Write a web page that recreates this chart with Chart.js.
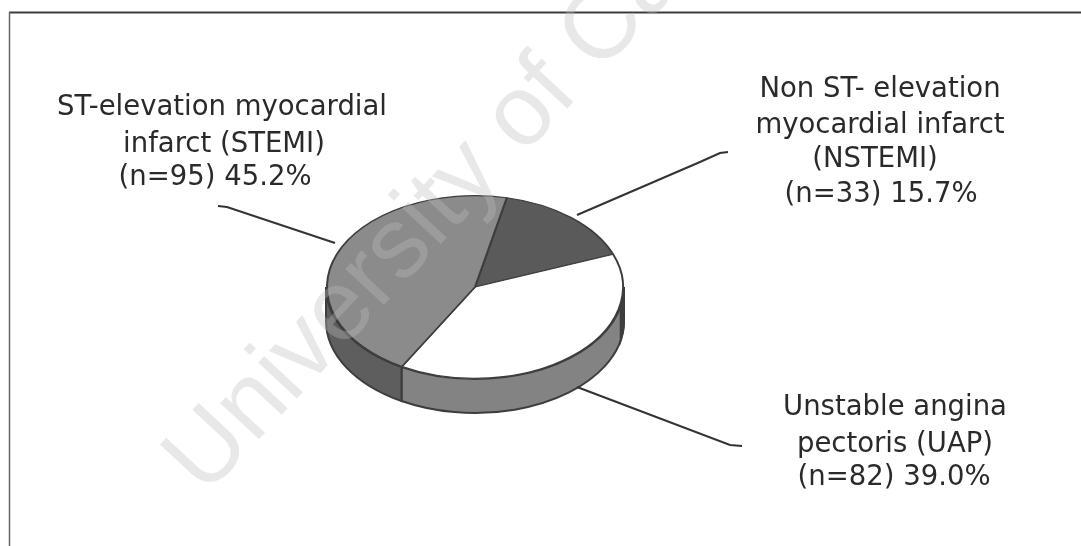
<!DOCTYPE html>
<html>
<head>
<meta charset="utf-8">
<style>
  html, body { margin: 0; padding: 0; background: #fff; }
  canvas { display: block; }
</style>
<script src="https://cdn.jsdelivr.net/npm/chart.js@4"></script>
</head>
<body>
<canvas id="acsChart" width="1081" height="546"></canvas>
<script>
// Data
const categories = ["NSTEMI", "UAP", "STEMI"];
const patients = [33, 82, 95];
const labelLines = [
    ["Non ST- elevation", "myocardial infarct", "(NSTEMI)", "(n=33) 15.7%"],
    ["Unstable angina", "pectoris (UAP)", "(n=82) 39.0%"],
    ["ST-elevation myocardial", "infarct (STEMI)", "(n=95) 45.2%"],
];

// Styles, one per slice
const faceColors = ["#5a5a5a", "#ffffff", "#8b8b8b"];
const wallColors = ["#3f3f3f", "#838383", "#5e5e5e"];

// Where each label line sits: [centre x, baseline y]
const labelAnchors = [
    [[880, 97], [880, 133], [875, 167], [881, 202]],
    [[895, 415], [895, 452], [894, 485]],
    [[222, 115], [224, 152], [215, 185]],
];
const leaders = [
    [[577, 215], [700, 162], [720, 153], [728, 152]],
    [[577, 387], [730, 445], [742, 446]],
    [[218, 206], [227, 207], [335, 243]],
];

const PIE_X = 475, PIE_Y = 287, RADIUS_X = 149, RADIUS_Y = 92, DEPTH = 34;
const SQUASH = RADIUS_Y / RADIUS_X;
const SLIVER_END = 12 * Math.PI / 180;

function drawWall(ctx, from, to, color) {
    if (to <= from) return;
    ctx.beginPath();
    ctx.ellipse(PIE_X, PIE_Y, RADIUS_X, RADIUS_Y, 0, from, to);
    ctx.ellipse(PIE_X, PIE_Y + DEPTH, RADIUS_X, RADIUS_Y, 0, to, from, true);
    ctx.closePath();
    ctx.fillStyle = color;
    ctx.fill();
    ctx.strokeStyle = "#3d3d3d";
    ctx.lineWidth = 2;
    ctx.stroke();
}

// Tilts the pie and puts the extruded side under it
const tiltPlugin = {
    id: "tilt",
    beforeDatasetsDraw(chart) {
        const ctx = chart.ctx;
        chart.getDatasetMeta(0).data.forEach((arc, i) => {
            const from = Math.max(arc.startAngle, 0);
            const to = Math.min(arc.endAngle, Math.PI);
            drawWall(ctx, from, to, wallColors[i]);
        });
        drawWall(ctx, 0, SLIVER_END, wallColors[0]);
        ctx.save();
        ctx.translate(PIE_X, PIE_Y);
        ctx.scale(1, SQUASH);
        ctx.translate(-PIE_X, -PIE_Y);
    },
    afterDatasetsDraw(chart) {
        chart.ctx.restore();
    },
};

// Frame, leader lines, labels and the watermark
const annotationPlugin = {
    id: "annotations",
    afterDraw(chart) {
        const ctx = chart.ctx;
        ctx.save();

        ctx.strokeStyle = "#3c3c3c";
        ctx.lineWidth = 2;
        ctx.beginPath();
        ctx.moveTo(9, 12.5);
        ctx.lineTo(1081, 12.5);
        ctx.stroke();
        ctx.strokeStyle = "#666666";
        ctx.lineWidth = 1.5;
        ctx.beginPath();
        ctx.moveTo(9.5, 12);
        ctx.lineTo(9.5, 546);
        ctx.stroke();

        ctx.strokeStyle = "#333333";
        ctx.lineWidth = 2;
        leaders.forEach((points) => {
            ctx.beginPath();
            points.forEach(([x, y], i) => (i ? ctx.lineTo(x, y) : ctx.moveTo(x, y)));
            ctx.stroke();
        });

        ctx.save();
        ctx.translate(205, 497);
        ctx.rotate(-47 * Math.PI / 180);
        ctx.font = "100px 'Liberation Sans'";
        ctx.fillStyle = "rgba(190, 190, 190, 0.35)";
        ctx.textAlign = "left";
        ctx.fillText("University of Cape Town", 0, 0);
        ctx.restore();

        ctx.fillStyle = "#2a2a2a";
        ctx.font = "27.5px 'DejaVu Sans'";
        ctx.textAlign = "center";
        labelLines.forEach((lines, i) => {
            lines.forEach((line, j) => {
                const [x, y] = labelAnchors[i][j];
                ctx.fillText(line, x, y);
            });
        });
        ctx.restore();
    },
};

const ctx = document.getElementById("acsChart").getContext("2d");
const chart = new Chart(ctx, {
    type: "pie",
    data: {
        labels: categories,
        datasets: [
            {
                data: patients,
                backgroundColor: faceColors,
                borderColor: "#3d3d3d",
                borderWidth: 2,
                clip: false,
            },
        ],
    },
    options: {
        responsive: false,
        animation: false,
        rotation: 12.4,
        layout: {
            padding: {
                left: PIE_X - RADIUS_X,
                right: 1081 - PIE_X - RADIUS_X,
                top: PIE_Y - RADIUS_X,
                bottom: 546 - PIE_Y - RADIUS_X,
            },
        },
        plugins: {
            legend: { display: false },
            tooltip: { enabled: false },
        },
    },
    plugins: [tiltPlugin, annotationPlugin],
});
</script>
</body>
</html>
